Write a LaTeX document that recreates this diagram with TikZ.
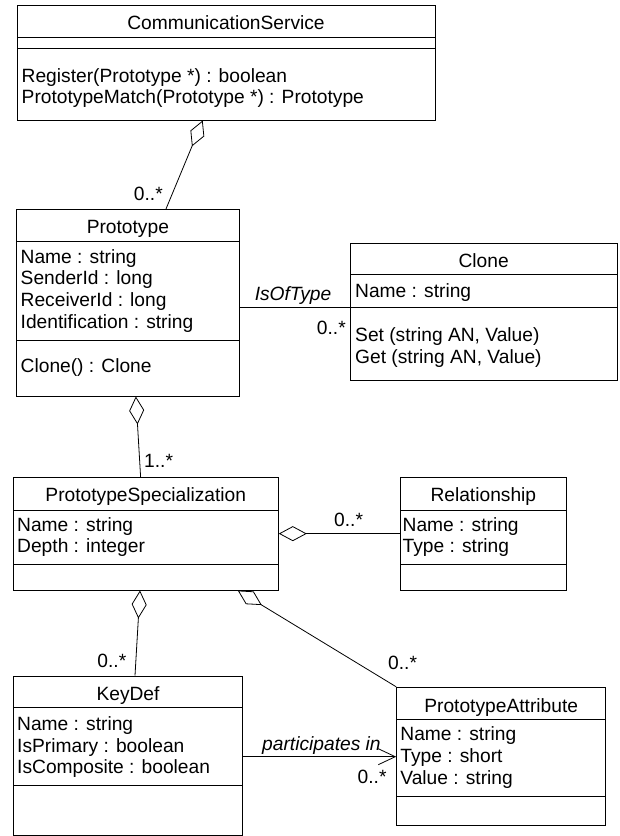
\documentclass[tikz,border=0pt]{standalone}
\usepackage{fontspec}
\setmainfont{Liberation Sans}
\usetikzlibrary{arrows.meta}
\tikzset{
  cls/.style={draw=black, line width=1pt, inner sep=0pt},
  sepline/.style={draw=black, line width=1pt},
  txt/.style={inner sep=0pt, font=\fontsize{19.2pt}{22pt}\selectfont},
  attr/.style={txt, anchor=base west},
  ttl/.style={txt, anchor=base},
  conn/.style={draw=black, line width=0.8pt},
  agg/.style={conn, {Diamond[open,length=28pt,width=15pt]}-},
  nav/.style={conn, -{Straight Barb[length=17pt,width=16pt]}},
}
\begin{document}
\begin{tikzpicture}[x=1pt,y=-1pt]
\useasboundingbox (0,0) rectangle (619,836);
\fill[white] (0,0) rectangle (619,836);

% ---------- CommunicationService
\node[cls, minimum width=418pt, minimum height=115pt] (cs) at (226,62.5) {};
\draw[sepline] (17,37.7) -- (435,37.7);
\draw[sepline] (17,48.3) -- (435,48.3);
\node[ttl] (cst) at (226,29.7) {CommunicationService};
\node[attr] (cs1) at (21.5,82.7) {Register(Prototype *) : boolean};
\node[attr] (cs2) at (21.5,103.3) {PrototypeMatch(Prototype *) : Prototype};

% ---------- Prototype
\node[cls, minimum width=222.3pt, minimum height=186.7pt] (proto) at (127.85,302.65) {};
\draw[sepline] (16.7,241) -- (239,241);
\draw[sepline] (16.7,340) -- (239,340);
\node[ttl] (prt) at (127.85,233.7) {Prototype};
\node[attr] (pr1) at (20.5,263) {Name : string};
\node[attr] (pr2) at (20.5,284.7) {SenderId : long};
\node[attr] (pr3) at (20.5,306.3) {ReceiverId : long};
\node[attr] (pr4) at (20.5,328) {Identification : string};
\node[attr] (pr5) at (20.5,372) {Clone() : Clone};

% ---------- Clone
\node[cls, minimum width=267.3pt, minimum height=136.7pt] (clone) at (483.65,311.65) {};
\draw[sepline] (350,274.3) -- (617.3,274.3);
\draw[sepline] (350,307.7) -- (617.3,307.7);
\node[ttl] (clt) at (483.65,267.7) {Clone};
\node[attr] (cl1) at (355,297.7) {Name : string};
\node[attr] (cl2) at (355,341.3) {Set (string AN, Value)};
\node[attr] (cl3) at (355,363.7) {Get (string AN, Value)};

% ---------- PrototypeSpecialization
\node[cls, minimum width=265pt, minimum height=112.7pt] (ps) at (145.8,533.65) {};
\draw[sepline] (13.3,510) -- (278.3,510);
\draw[sepline] (13.3,564) -- (278.3,564);
\node[ttl] (pst) at (145.8,501) {PrototypeSpecialization};
\node[attr] (ps1) at (17,531) {Name : string};
\node[attr] (ps2) at (17,552.7) {Depth : integer};

% ---------- Relationship
\node[cls, minimum width=166.7pt, minimum height=112.7pt] (rel) at (483.35,533.65) {};
\draw[sepline] (400,510) -- (566.7,510);
\draw[sepline] (400,564) -- (566.7,564);
\node[ttl] (rlt) at (483.35,501) {Relationship};
\node[attr] (rl1) at (402.5,531) {Name : string};
\node[attr] (rl2) at (402.5,552.7) {Type : string};

% ---------- KeyDef
\node[cls, minimum width=229.4pt, minimum height=159pt] (kd) at (128,755.5) {};
\draw[sepline] (13.3,707.7) -- (242.7,707.7);
\draw[sepline] (13.3,785.7) -- (242.7,785.7);
\node[ttl] (kdt) at (128,700.3) {KeyDef};
\node[attr] (kd1) at (17,730.3) {Name : string};
\node[attr] (kd2) at (17,752) {IsPrimary : boolean};
\node[attr] (kd3) at (17,773.7) {IsComposite : boolean};

% ---------- PrototypeAttribute
\node[cls, minimum width=209pt, minimum height=138.4pt] (pa) at (501.2,756.5) {};
\draw[sepline] (396.7,719.3) -- (605.7,719.3);
\draw[sepline] (396.7,796) -- (605.7,796);
\node[ttl] (pat) at (501.2,712) {PrototypeAttribute};
\node[attr] (pa1) at (400.2,740.3) {Name : string};
\node[attr] (pa2) at (400.2,762.7) {Type : short};
\node[attr] (pa3) at (400.2,784.7) {Value : string};

% ---------- connectors
\draw[agg] ([xshift=-23.3pt]cs.south) -- ([xshift=38.2pt]proto.north);
\node[txt, anchor=base east] (m1) at (163,200) {0..*};

\coordinate (po) at ([yshift=-4.35pt]proto.east);
\draw[conn] (po) -- (po -| clone.west);
\node[txt, anchor=base, font=\fontsize{19.2pt}{22pt}\selectfont\itshape] (l1) at (293,300) {IsOfType};
\node[txt, anchor=base east] (m2) at (346,334) {0..*};

\draw[agg] ([xshift=8pt]proto.south) -- ([xshift=-5.2pt]ps.north);
\node[txt, anchor=base west] (m3) at (144,467) {1..*};

\draw[agg] (ps.east) -- (rel.west);
\node[txt, anchor=base west] (m4) at (334,526.5) {0..*};

\draw[agg] ([xshift=-5.8pt]ps.south) -- ([xshift=7pt]kd.north);
\node[txt, anchor=base east] (m5) at (126.5,667) {0..*};

\draw[agg] ([xshift=92pt]ps.south) -- (pa.north west);
\node[txt, anchor=base west] (m6) at (388,669) {0..*};

\coordinate (ko) at ([yshift=-1.2pt]kd.east);
\draw[nav] (ko) -- (ko -| pa.west);
\node[txt, anchor=base west, font=\fontsize{19.2pt}{22pt}\selectfont\itshape] (l2) at (262,750.5) {participates in};
\node[txt, anchor=base east] (m7) at (386.7,783) {0..*};
\end{tikzpicture}
\end{document}
